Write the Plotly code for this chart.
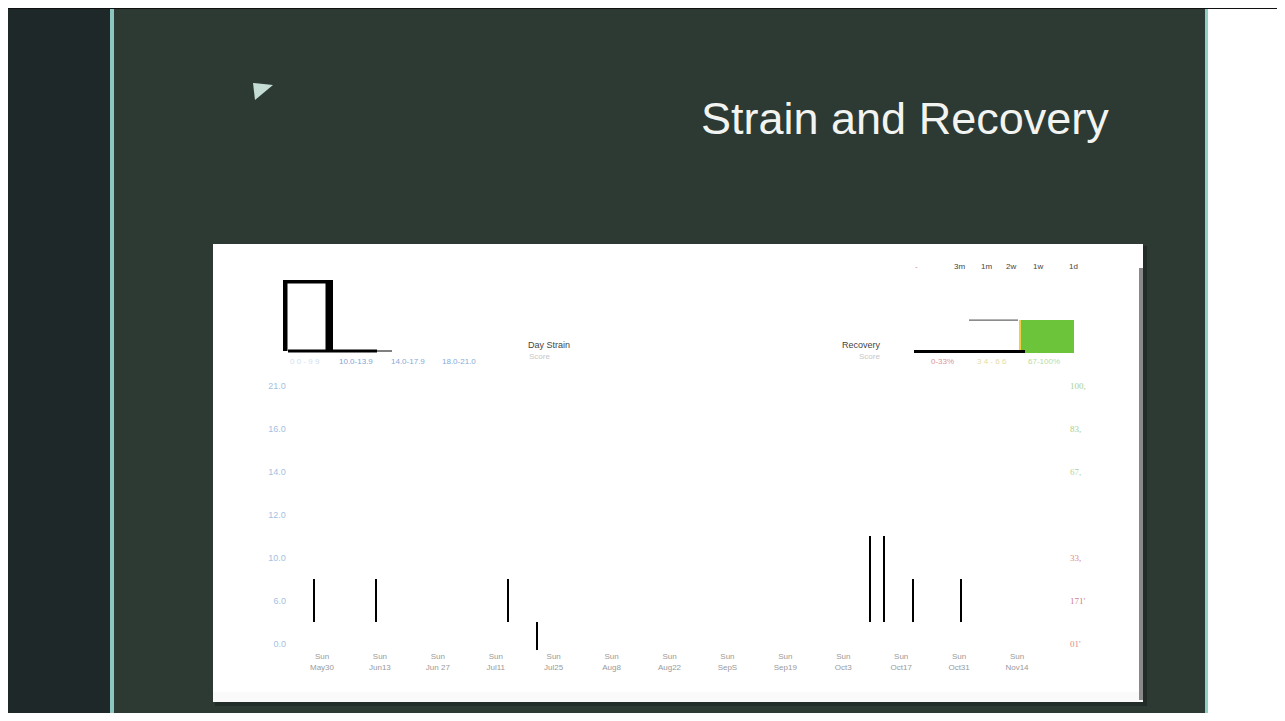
import plotly.graph_objects as go

# ---------------- data ----------------
strain_dates = ["2021-05-28", "2021-06-12", "2021-07-14", "2021-07-21",
                "2021-10-09 12:00", "2021-10-13", "2021-10-20", "2021-10-31 12:00"]
strain_low = [0.5, 0.5, 0.5, -0.14, 0.5, 0.5, 0.5, 0.5]
strain_high = [1.5, 1.5, 1.5, 0.5, 2.5, 2.5, 1.5, 1.5]

x_tick_dates = ["2021-05-30", "2021-06-13", "2021-06-27", "2021-07-11", "2021-07-25",
                "2021-08-08", "2021-08-22", "2021-09-05", "2021-09-19", "2021-10-03",
                "2021-10-17", "2021-10-31", "2021-11-14"]
x_tick_days = ["Sun"] * 13
x_tick_months = ["May30", "Jun13", "Jun 27", "Jul11", "Jul25", "Aug8", "Aug22",
                 "SepS", "Sep19", "Oct3", "Oct17", "Oct31", "Nov14"]

left_tick_vals = [0, 1, 2, 3, 4, 5, 6]
left_tick_text = ["0.0", "6.0", "10.0", "12.0", "14.0", "16.0", "21.0"]

right_tick_vals = [0, 1, 2, 4, 5, 6]
right_tick_text = ["01'", "171'", "33,", "67,", "83,", "100,"]
right_tick_colors = ["#d98c8c", "#cf7f85", "#d98c8c", "#b5d49c", "#a9cf8d", "#a9cf8d"]

strain_legend = ["0 0 - 9 9", "10.0-13.9", "14.0-17.9", "18.0-21.0"]
strain_legend_colors = ["#cfdff0", "#7ea5d6", "#86abd9", "#86abd9"]
recovery_legend = ["0-33%", "3 4 - 6 6", "67-100%"]
recovery_legend_colors = ["#d9959a", "#e6dba6", "#b9dba4"]
range_buttons = ["-", "3m", "1m", "2w", "1w", "1d"]

# ---------------- geometry helpers (reference pixels -> paper) ----------------
OFF = 8
W, H = 1269, 705


def px(x):
    return (x - OFF) / W


def py(y):
    return 1 - (y - OFF) / H


def rect(x0, y0, x1, y1, color, layer="below"):
    return dict(type="rect", xref="paper", yref="paper",
                x0=px(x0), x1=px(x1), y0=py(y1), y1=py(y0),
                fillcolor=color, line=dict(width=0), layer=layer)


shapes = [
    rect(0, 0, 110, 730, "#1f2828"),
    rect(110, 0, 114, 730, "#8cc6c0"),
    rect(114, 0, 1205, 730, "#2c3a33"),
    rect(1205, 0, 1208, 730, "#8fd0c4"),
    rect(1208, 0, 1290, 730, "#ffffff"),
    rect(0, 7, 1290, 9, "#111111"),
    # card
    rect(215, 246, 1147, 706, "#222c28"),
    rect(213, 244, 1143, 702, "#ffffff"),
    rect(213, 692, 1143, 702, "#f9faf9"),
    rect(1139, 268, 1143, 700, "#8a8a8a"),
    # strain legend decoration
    rect(283, 280, 287.5, 351, "#000000", "above"),
    rect(283, 280, 333, 283.5, "#000000", "above"),
    rect(325.5, 280, 333, 351, "#000000", "above"),
    rect(288, 349.5, 377, 352.5, "#000000", "above"),
    rect(377, 350.5, 392, 351.5, "#000000", "above"),
    # recovery legend decoration
    rect(1019, 320, 1022, 353, "#f0cf45", "above"),
    rect(1021, 320, 1074, 353, "#6cc43b", "above"),
    rect(914, 350, 1025, 353, "#000000", "above"),
    rect(969, 319.5, 1018, 320.8, "#666666", "above"),
    # slide icon
    dict(type="path", xref="paper", yref="paper",
         path="M {},{} L {},{} L {},{} Z".format(px(253), py(83), px(273), py(85), px(255), py(100)),
         fillcolor="#c5ddd4", line=dict(width=0), layer="above"),
]

annotations = []


def note(text, x, y, size, color, family="Liberation Sans, Arial, sans-serif", xanchor="center"):
    annotations.append(dict(text=text, x=px(x), y=py(y), xref="paper", yref="paper",
                            showarrow=False, xanchor=xanchor, yanchor="middle",
                            font=dict(size=size, color=color, family=family)))


note("Strain and Recovery", 905, 118, 45, "#f2f4f2")
for t, xx, c in zip(strain_legend, [305, 356, 408, 459], strain_legend_colors):
    note(t, xx, 362, 8, c)
note("Day Strain", 549, 345, 9, "#444444")
note("Score", 539, 356, 8, "#c8c8c8")
note("Recovery", 861, 345, 9, "#444444")
note("Score", 869, 356, 8, "#c8c8c8")
for t, xx, c in zip(recovery_legend, [943, 992, 1044], recovery_legend_colors):
    note(t, xx, 362, 8, c)
for t, xx in zip(range_buttons, [916, 959, 986, 1011, 1038, 1073]):
    note(t, xx, 266, 8, "#e08080" if t == "-" else "#444444")

# ---------------- traces ----------------
heights = [h - l for h, l in zip(strain_high, strain_low)]
fig = go.Figure()
fig.add_trace(go.Bar(x=strain_dates, y=heights, base=strain_low,
                     width=0.36 * 86400000, marker=dict(color="#000000", line=dict(width=0)),
                     hoverinfo="skip", showlegend=False))
fig.add_trace(go.Scatter(x=strain_dates, y=strain_high, yaxis="y2", mode="markers",
                         marker=dict(opacity=0), hoverinfo="skip", showlegend=False))

x_tick_text = ["{}<br>{}".format(d, m) for d, m in zip(x_tick_days, x_tick_months)]
right_text = ['<span style="color:{}">{}</span>'.format(c, t)
              for t, c in zip(right_tick_text, right_tick_colors)]

y_range = [-0.15, 6.3]
y_bottom_px = 644 + 0.15 * 43
y_top_px = 386 - 0.3 * 43
fig.update_layout(
    width=W, height=H, autosize=False,
    margin=dict(l=0, r=0, t=0, b=0, pad=0),
    paper_bgcolor="#2c3a33", plot_bgcolor="rgba(0,0,0,0)",
    showlegend=False, bargap=0,
    shapes=shapes, annotations=annotations,
    xaxis=dict(type="date", range=["2021-05-22", "2021-11-22"],
               domain=[px(288.9), px(1050.1)],
               tickvals=x_tick_dates, ticktext=x_tick_text,
               tickfont=dict(size=8, color="#9a9a9a", family="Liberation Sans, Arial, sans-serif"),
               showgrid=False, zeroline=False, showline=False, ticks="",
               ticklabelstandoff=0),
    yaxis=dict(range=y_range, domain=[py(y_bottom_px), py(y_top_px)],
               tickvals=left_tick_vals, ticktext=left_tick_text,
               tickfont=dict(size=9, color="#a3c1e3", family="Liberation Sans, Arial, sans-serif"),
               showgrid=False, zeroline=False, showline=False, ticks="",
               ticklabelstandoff=2),
    yaxis2=dict(range=y_range, overlaying="y", side="right",
                tickvals=right_tick_vals, ticktext=right_text,
                tickfont=dict(size=9, color="#cccccc", family="Liberation Serif, Times New Roman, serif"),
                showgrid=False, zeroline=False, showline=False, ticks="",
                ticklabelstandoff=19),
)

fig.write_html("out.html")
